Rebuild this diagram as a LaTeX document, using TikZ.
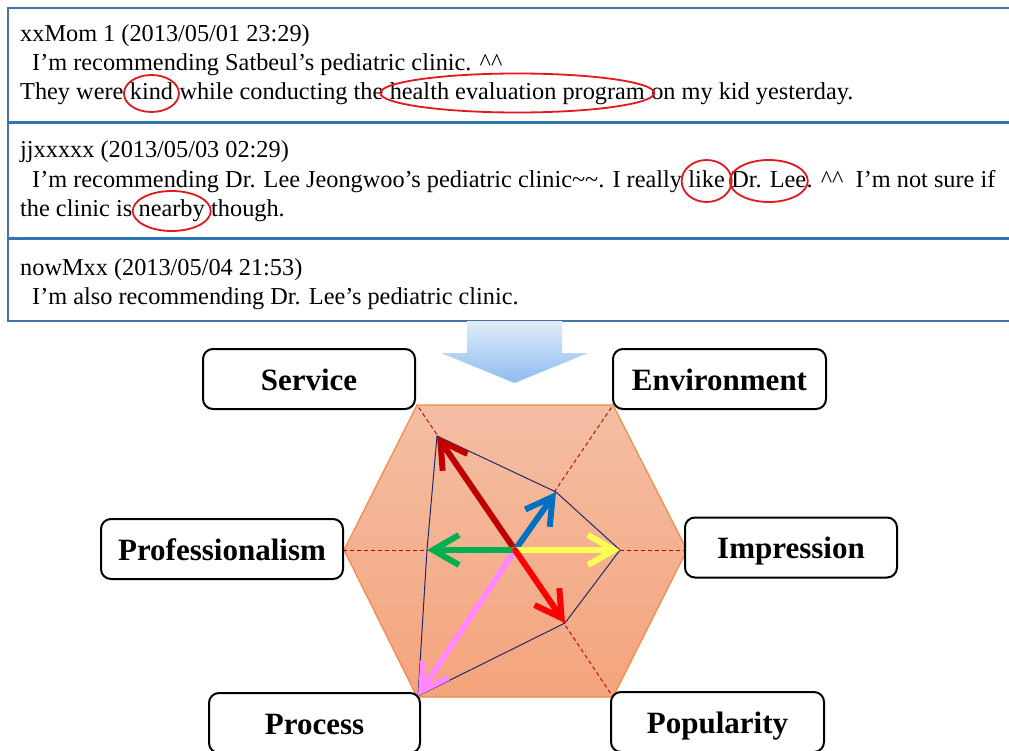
\documentclass[tikz,border=0pt]{standalone}
\usepackage{fontspec}
\setmainfont{Liberation Serif}
\usetikzlibrary{arrows.meta,calc}
\definecolor{frameblue}{HTML}{4672A4}
\definecolor{sepblue}{HTML}{2E75B6}
\definecolor{hlred}{HTML}{E4161E}
\definecolor{hexT}{HTML}{F4BEA4}
\definecolor{hexB}{HTML}{F4A47C}
\definecolor{hexedge}{HTML}{F08A47}
\definecolor{axisred}{HTML}{C00000}
\definecolor{polyblue}{HTML}{1F2A6B}
\definecolor{arrT}{HTML}{E0ECFA}
\definecolor{arrB}{HTML}{8DBBF0}
\definecolor{cdarkred}{HTML}{C00000}
\definecolor{cblue}{HTML}{0070C0}
\definecolor{cyellow}{HTML}{FFFF55}
\definecolor{cred}{HTML}{FF0000}
\definecolor{cpink}{HTML}{FF88FF}
\definecolor{cgreen}{HTML}{00B050}
\def\wsp{6.05}
\tikzset{
  txt/.style={inner sep=0pt, anchor=base west, font=\fontsize{24.3}{29}\selectfont},
  hl/.style={draw=hlred, line width=1.8pt},
  lbl/.style={draw, line width=2pt, rounded corners=10pt, fill=white, minimum height=60pt, inner sep=0pt, text height=24pt, text depth=2pt, font=\fontsize{31}{31}\selectfont\bfseries},
  axis/.style={draw=axisred, line width=0.9pt, dash pattern=on 4pt off 3pt},
  datapoly/.style={draw=polyblue, line width=1pt},
  arr/.style={line width=6pt, line cap=round, line join=round, -{Straight Barb[length=26pt,width=30pt]}}
}
\begin{document}
\begin{tikzpicture}[x=1pt,y=-1pt]
\useasboundingbox (0,0) rectangle (1009,751);
\clip (0,0) rectangle (1009,751);
\fill[white] (0,0) rectangle (1009,751);
% top panel
\draw[sepblue, line width=2.5pt] (8,122.5) -- (1015,122.5);
\draw[sepblue, line width=2.5pt] (8,238.5) -- (1015,238.5);
\draw[frameblue, line width=2.5pt] (1015,8) -- (8,8) -- (8,321) -- (1015,321);
% block 1
\node[txt] (a1) at (20,42) {xxMom 1 (2013/05/01 23:29)};
\node[txt] (a2) at (32,71) {I’m recommending Satbeul’s pediatric clinic. \textasciicircum\textasciicircum};
\node[txt] (a3) at (20,100) {They were};
\node[txt] (kind) at ([xshift=\wsp]a3.base east) {kind};
\node[txt] (a3b) at ([xshift=\wsp]kind.base east) {while conducting the};
\node[txt] (hep) at ([xshift=\wsp]a3b.base east) {health evaluation program};
\node[txt] (a3c) at ([xshift=\wsp]hep.base east) {on my kid yesterday.};
\draw[hl] ([yshift=6.5pt]kind.base) ellipse [x radius=27.5pt, y radius=18.5pt];
\draw[hl] ([yshift=7pt]hep.base) ellipse [x radius=137pt, y radius=19.5pt];
% block 2
\node[txt] (b1) at (20,158) {jjxxxxx (2013/05/03 02:29)};
\node[txt] (b2) at (32,188) {I’m recommending Dr. Lee Jeongwoo’s pediatric clinic\textasciitilde\textasciitilde. I really};
\node[txt] (like) at ([xshift=\wsp]b2.base east) {like};
\node[txt] (drlee) at ([xshift=\wsp]like.base east) {Dr. Lee};
\node[txt] (b2c) at (drlee.base east) {. \textasciicircum\textasciicircum\ \ I’m not sure if};
\node[txt] (b3) at (20,217) {the clinic is};
\node[txt] (nearby) at ([xshift=\wsp]b3.base east) {nearby};
\node[txt] (b3c) at ([xshift=\wsp]nearby.base east) {though.};
\draw[hl] ([yshift=7pt]like.base) ellipse [x radius=25pt, y radius=21pt];
\draw[hl] ([yshift=7pt]drlee.base) ellipse [x radius=39pt, y radius=21pt];
\draw[hl] ([yshift=6pt]nearby.base) ellipse [x radius=39pt, y radius=20pt];
% block 3
\node[txt] (c1) at (20,276) {nowMxx (2013/05/04 21:53)};
\node[txt] (c2) at (32,305) {I’m also recommending Dr. Lee’s pediatric clinic.};
% big arrow
\shade[top color=arrT, bottom color=arrB] (467,321) -- (562,321) -- (562,353) -- (588,353) -- (514.5,383) -- (441,353) -- (467,353) -- cycle;
% hexagon
\coordinate (O) at (515,550);
\coordinate (vS) at (417,405);
\coordinate (vE) at (613,405);
\coordinate (vI) at (687,550);
\coordinate (vPo) at (613,697);
\coordinate (vPr) at (417,697);
\coordinate (vPf) at (344,550);
\shadedraw[top color=hexT, bottom color=hexB, draw=hexedge, line width=1.2pt] (vS) -- (vE) -- (vI) -- (vPo) -- (vPr) -- (vPf) -- cycle;
\foreach \v in {vS,vE,vI,vPo,vPr,vPf} \draw[axis] (O) -- (\v);
% data polygon
\coordinate (dS) at (437,436);
\coordinate (dE) at (556,492);
\coordinate (dI) at (620,550);
\coordinate (dPo) at (565,623);
\coordinate (dPr) at (418,696);
\coordinate (dPf) at (427,550);
\draw[datapoly] (dS) -- (dE) -- (dI) -- (dPo) -- (dPr) -- (dPf) -- cycle;
% arrows
\draw[arr, cpink] (O) -- (dPr);
\draw[arr, cdarkred] (O) -- (dS);
\draw[arr, cgreen] (O) -- (dPf);
\draw[arr, cblue] (O) -- (dE);
\draw[arr, cyellow] (O) -- (dI);
\draw[arr, cred] (O) -- (dPo);
% labels
\node[lbl, minimum width=212pt] (service) at (309,379) {Service};
\node[lbl, minimum width=213pt] (environment) at (719.5,379) {Environment};
\node[lbl, minimum width=242pt] (profess) at (222,549) {Professionalism};
\node[lbl, minimum width=212pt] (impression) at (791,547.5) {Impression};
\node[lbl, minimum width=211pt] (process) at (314.5,723) {Process};
\node[lbl, minimum width=213pt] (popularity) at (717.5,722) {Popularity};
\end{tikzpicture}
\end{document}
